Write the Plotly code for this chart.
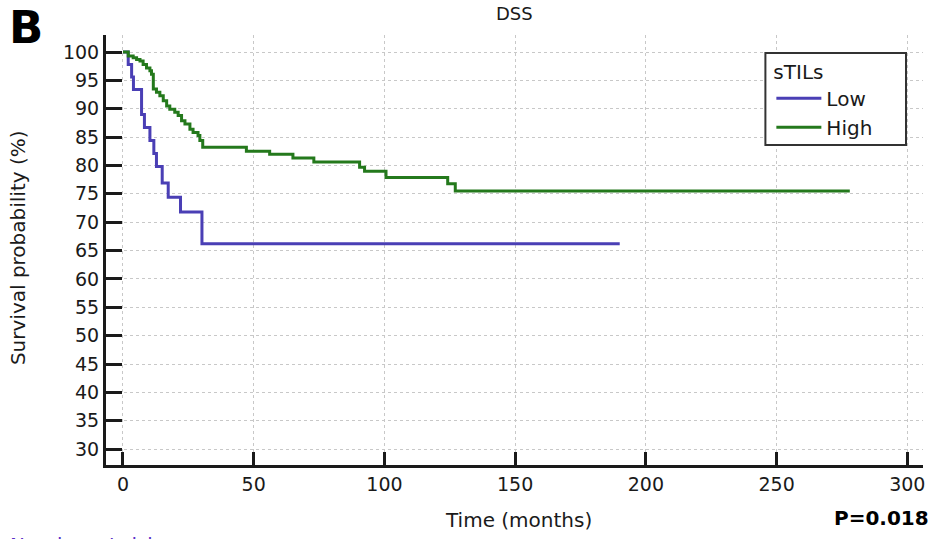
import plotly.graph_objects as go

# ---- data ----
low_t = [0, 2.0, 3.3, 4.0, 7.1, 8.2, 10.3, 11.8, 12.8, 15.0, 17.3, 22.0, 30.2, 190]
low_s = [100, 97.8, 95.6, 93.4, 89.0, 86.7, 84.4, 82.1, 79.8, 76.9, 74.4, 71.8, 66.2, 66.2]

high_t = [0, 2.0, 3.9, 5.2, 6.5, 7.7, 9.0, 10.3, 10.9, 11.6, 12.8, 14.1, 15.4, 16.7,
          17.9, 19.8, 21.1, 22.4, 23.7, 25.6, 26.8, 28.7, 29.4, 30.5, 47.2, 56.1,
          65.0, 73.0, 90.5, 92.4, 100.6, 124.2, 127.1, 278]
high_s = [100, 99.3, 99.0, 98.7, 98.4, 97.8, 97.2, 96.7, 96.1, 93.5, 92.9, 92.3, 91.4, 90.5,
          89.9, 89.4, 88.8, 87.9, 87.3, 86.4, 85.8, 85.3, 84.4, 83.2, 82.5, 82.0,
          81.3, 80.6, 79.7, 79.0, 77.9, 76.8, 75.5, 75.5]

x_ticks = [0, 50, 100, 150, 200, 250, 300]
y_ticks = list(range(30, 101, 5))

series_names = ["Low", "High"]
colors = ["#4a3fb5", "#24791c"]

FONT = "DejaVu Sans"
INK = "#1a1a1a"

fig = go.Figure()
for name, t, s, c in zip(series_names, [low_t, high_t], [low_s, high_s], colors):
    fig.add_trace(go.Scatter(x=t, y=s, mode="lines", name=name,
                             line=dict(color=c, width=3, shape="hv")))

axis_common = dict(showline=True, linecolor=INK, linewidth=3, ticks="inside",
                   tickcolor=INK, tickwidth=2.5, showgrid=True, gridcolor="#c8c8c8",
                   griddash="dot", gridwidth=1, zeroline=False, mirror=False,
                   tickfont=dict(family=FONT, size=19, color=INK))

fig.update_xaxes(range=[-6.5, 306], tickvals=x_ticks, ticklen=13, **axis_common)
fig.update_yaxes(range=[27.2, 103], tickvals=y_ticks, ticklen=16, **axis_common)

fig.update_layout(
    width=936, height=539,
    margin=dict(l=106, r=11, t=35, b=74),
    paper_bgcolor="white", plot_bgcolor="white",
    font=dict(family=FONT, color=INK),
    showlegend=True,
    legend=dict(x=0.8144, y=0.959, xanchor="left", yanchor="top",
                borderwidth=0, bgcolor="rgba(0,0,0,0)", itemwidth=45,
                font=dict(family=FONT, size=20, color=INK),
                title=dict(text="sTILs", font=dict(family=FONT, size=20, color=INK))),
    shapes=[
        dict(type="rect", xref="paper", yref="paper", x0=0.8071, x1=0.9792,
             y0=0.7442, y1=0.9581, line=dict(color="#333333", width=2),
             fillcolor="white", layer="above"),
    ],
    annotations=[
        dict(text="DSS", xref="paper", yref="paper", x=0.4994, y=1.049,
             xanchor="center", yanchor="middle", showarrow=False,
             font=dict(family=FONT, size=18, color=INK)),
        dict(text="<b>B</b>", xref="paper", yref="paper", x=-0.1197, y=1.0814,
             xanchor="left", yanchor="top", showarrow=False, borderpad=0,
             font=dict(family=FONT, size=45, color="black")),
        dict(text="Survival probability (%)", xref="paper", yref="paper", x=-0.1074, y=0.505,
             xanchor="center", yanchor="middle", textangle=-90, showarrow=False,
             font=dict(family=FONT, size=20, color=INK)),
        dict(text="Time (months)", xref="paper", yref="paper", x=0.505, y=-0.128,
             xanchor="center", yanchor="middle", showarrow=False,
             font=dict(family=FONT, size=20, color=INK)),
        dict(text="<b>P=0.018</b>", xref="paper", yref="paper", x=1.0098, y=-0.123,
             xanchor="right", yanchor="middle", showarrow=False,
             font=dict(family=FONT, size=20, color="black")),
        dict(text="Number at risk", xref="paper", yref="paper", x=-0.1197, y=-0.1535,
             xanchor="left", yanchor="top", showarrow=False,
             font=dict(family=FONT, size=20, color="#5a30c8")),
    ],
)

fig.write_html("out.html")
